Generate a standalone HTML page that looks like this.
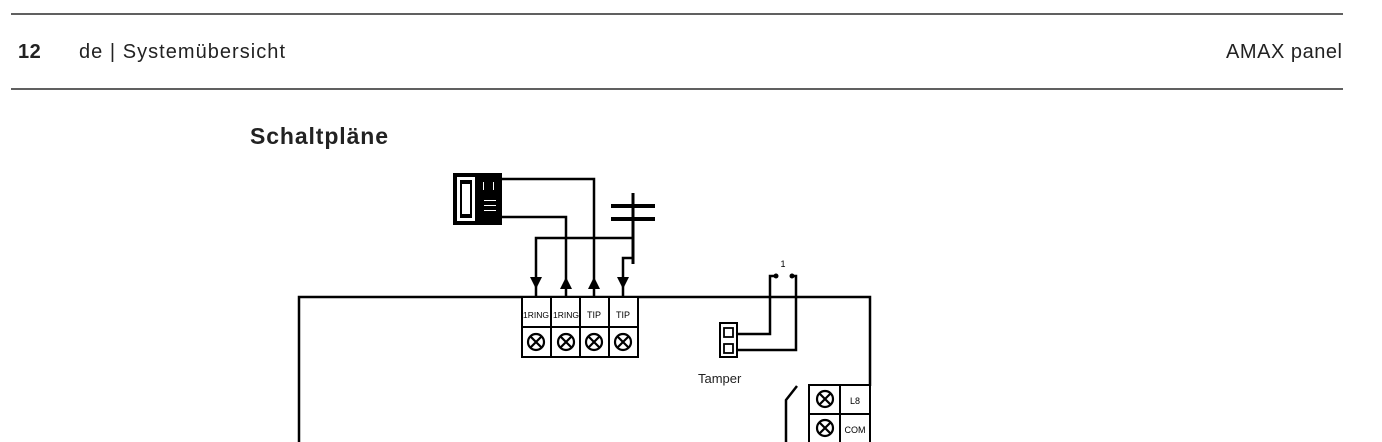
<!DOCTYPE html>
<html><head><meta charset="utf-8"><style>
body{margin:0;background:#fff;width:1382px;height:442px;overflow:hidden}
svg{display:block}
</style></head><body>
<svg width="1382" height="442" xmlns="http://www.w3.org/2000/svg" font-family="Liberation Sans, sans-serif">
<line x1="11" y1="14" x2="1343" y2="14" stroke="#000" stroke-width="1.2"/>
<line x1="11" y1="89" x2="1343" y2="89" stroke="#000" stroke-width="1.2"/>
<text x="18" y="58" font-size="20" font-weight="bold" fill="#222" letter-spacing="0.5">12</text>
<text x="79" y="58" font-size="20" fill="#222" letter-spacing="1" textLength="207">de | Systemübersicht</text>
<text x="1226" y="58" font-size="20" fill="#222" textLength="116">AMAX panel</text>
<text x="250" y="144" font-size="23" font-weight="bold" fill="#222" textLength="138">Schaltpläne</text>

<g stroke="#000" stroke-width="2.5" fill="none">
<polyline points="299,442 299,297 870,297 870,386"/>
<polyline points="502,179 594,179 594,297"/>
<polyline points="502,217 566,217 566,297"/>
<polyline points="536,297 536,238 633,238"/>
<polyline points="623,297 623,258 633,258"/>
<line x1="633" y1="193" x2="633" y2="264" stroke-width="3"/>
<line x1="611" y1="206" x2="655" y2="206" stroke-width="4"/>
<line x1="611" y1="219" x2="655" y2="219" stroke-width="4"/>
<polyline points="737,334 770,334 770,276 776,276"/>
<polyline points="737,350 796,350 796,276 792,276"/>
<polyline points="797,386 786,400 786,442"/>
</g>
<g fill="#000">
<polygon points="530,277 542,277 536,289"/>
<polygon points="560,289 572,289 566,277"/>
<polygon points="588,289 600,289 594,277"/>
<polygon points="617,277 629,277 623,289"/>
<circle cx="776" cy="276" r="2.5"/><circle cx="792" cy="276" r="2.5"/>
</g>
<text x="783" y="267" font-size="9" text-anchor="middle" fill="#000">1</text>
<rect x="453" y="173" width="49" height="52" fill="#000"/>
<rect x="457" y="177" width="18" height="44" fill="#fff"/>
<rect x="460" y="180" width="12" height="38" fill="#000"/>
<rect x="462" y="184" width="8" height="30" fill="#fff"/>
<g fill="#fff"><rect x="483" y="182" width="1" height="8"/><rect x="493" y="182" width="1" height="8"/><rect x="484" y="200" width="12" height="1"/><rect x="484" y="205" width="12" height="1"/><rect x="484" y="210" width="12" height="1"/></g>
<g stroke="#000" stroke-width="2" fill="#fff">
<rect x="522" y="297" width="29" height="30"/><rect x="551" y="297" width="29" height="30"/><rect x="580" y="297" width="29" height="30"/><rect x="609" y="297" width="29" height="30"/>
<rect x="522" y="327" width="29" height="30"/><rect x="551" y="327" width="29" height="30"/><rect x="580" y="327" width="29" height="30"/><rect x="609" y="327" width="29" height="30"/>
</g>
<g font-size="9" text-anchor="middle" fill="#000">
<text x="536" y="318" font-size="8.5">1RING</text><text x="566" y="318" font-size="8.5">1RING</text><text x="594" y="318">TIP</text><text x="623" y="318">TIP</text>
</g>
<g stroke="#000" stroke-width="2.2" fill="none">
<circle cx="536" cy="342" r="8"/><path d="M530.5,336.5l11,11M541.5,336.5l-11,11"/>
<circle cx="566" cy="342" r="8"/><path d="M560.5,336.5l11,11M571.5,336.5l-11,11"/>
<circle cx="594" cy="342" r="8"/><path d="M588.5,336.5l11,11M599.5,336.5l-11,11"/>
<circle cx="623" cy="342" r="8"/><path d="M617.5,336.5l11,11M628.5,336.5l-11,11"/>
</g>
<rect x="720" y="323" width="17" height="34" fill="#fff" stroke="#000" stroke-width="2"/>
<rect x="724" y="328" width="9" height="9" fill="#fff" stroke="#000" stroke-width="1.8"/>
<rect x="724" y="344" width="9" height="9" fill="#fff" stroke="#000" stroke-width="1.8"/>
<text x="698" y="383" font-size="13" fill="#222">Tamper</text>
<g stroke="#000" stroke-width="2" fill="#fff">
<rect x="809" y="385" width="31" height="29"/><rect x="840" y="385" width="30" height="29"/>
<rect x="809" y="414" width="31" height="29"/><rect x="840" y="414" width="30" height="29"/>
</g>
<text x="855" y="404" font-size="9" text-anchor="middle">L8</text>
<text x="855" y="433" font-size="9" text-anchor="middle">COM</text>
<g stroke="#000" stroke-width="2.2" fill="none">
<circle cx="825" cy="399" r="8"/><path d="M819.5,393.5l11,11M830.5,393.5l-11,11"/>
<circle cx="825" cy="428" r="8"/><path d="M819.5,422.5l11,11M830.5,422.5l-11,11"/>
</g>
</svg>
</body></html>
